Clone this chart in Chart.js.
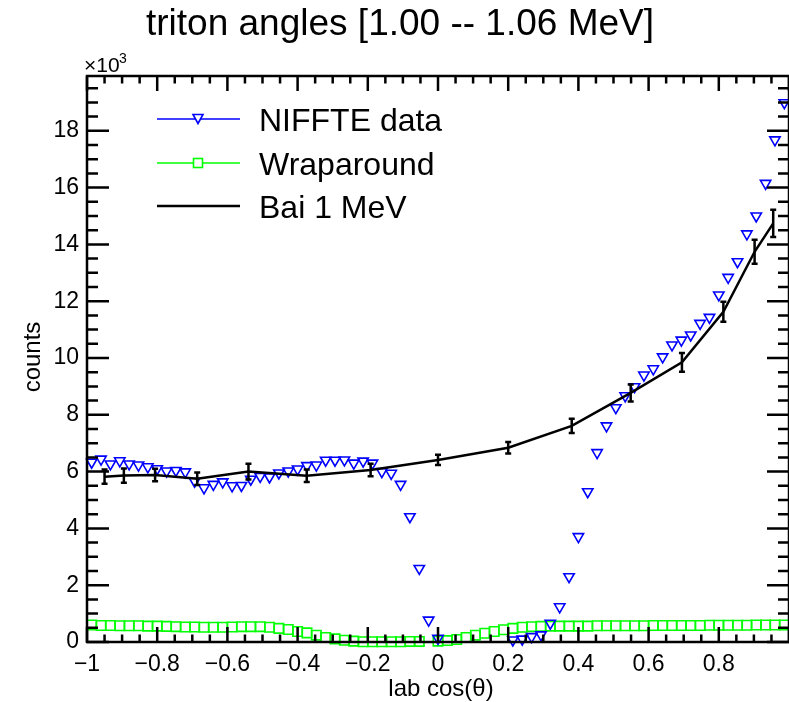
<!DOCTYPE html>
<html>
<head>
<meta charset="utf-8">
<title>triton angles</title>
<script src="https://cdn.jsdelivr.net/npm/chart.js@4.4.1/dist/chart.umd.min.js"></script>
<style>
  html, body { margin: 0; padding: 0; background: #fff; }
  #wrap { width: 789px; height: 702px; }
</style>
</head>
<body>
<div id="wrap"><canvas id="angleChart" width="789" height="702"></canvas></div>
<script>
// Histogram binning in lab cos(theta): 75 bins from -1 to 1
const nBins = 75;
const cosTheta = Array.from({ length: nBins }, (_, i) => -1 + (2 * i + 1) / nBins);

// NIFFTE counts per bin (x10^3), null = empty bin
const niffteCounts = [
  6.33, 6.44, 6.27, 6.38, 6.27, 6.23, 6.17, 6.10, 6.02, 6.04,
  5.99, 5.66, 5.43, 5.55, 5.64, 5.50, 5.51, 5.73, 5.83, 5.81,
  5.95, 6.02, 6.09, 6.21, 6.23, 6.40, 6.40, 6.41, 6.30, 6.37,
  6.30, 6.00, 5.94, 5.55, 4.41, 2.59, 0.77, 0.13, null, null,
  null, null, null, null, null, 0.07, 0.10, 0.19, 0.25, 0.66,
  1.24, 2.30, 3.71, 5.29, 6.67, 7.61, 8.25, 8.67, 8.99, 9.40,
  9.62, 10.04, 10.46, 10.63, 10.81, 11.22, 11.43, 12.22, 12.84, 13.39,
  14.37, 15.00, 16.15, 17.68, 18.99
];

// Wraparound counts per bin (x10^3)
const wrapCounts = [
  0.60, 0.58, 0.58, 0.57, 0.57, 0.57, 0.56, 0.56, 0.55, 0.54,
  0.53, 0.53, 0.52, 0.52, 0.52, 0.53, 0.54, 0.54, 0.54, 0.52,
  0.48, 0.44, 0.37, 0.32, 0.24, 0.16, 0.11, 0.06, 0.03, 0.01,
  0.01, 0.01, 0.01, 0.01, 0.02, 0.02, null, 0.03, 0.05, 0.09,
  0.16, 0.24, 0.31, 0.37, 0.43, 0.48, 0.52, 0.54, 0.55, 0.56,
  0.56, 0.56, 0.56, 0.56, 0.57, 0.57, 0.57, 0.57, 0.57, 0.57,
  0.58, 0.58, 0.58, 0.58, 0.58, 0.58, 0.59, 0.59, 0.59, 0.59,
  0.59, 0.60, 0.60, 0.60, 0.60
];

// Bai 1 MeV angular distribution with uncertainties (x10^3)
const baiCos = [-0.950, -0.895, -0.806, -0.686, -0.540, -0.374, -0.192, 0.000, 0.200, 0.381, 0.549, 0.695, 0.813, 0.902, 0.955];
const baiCounts = [5.82, 5.86, 5.88, 5.75, 6.00, 5.85, 6.06, 6.41, 6.84, 7.61, 8.77, 9.85, 11.63, 13.74, 14.74];
const baiErr = [0.25, 0.25, 0.22, 0.22, 0.28, 0.22, 0.22, 0.18, 0.20, 0.25, 0.30, 0.33, 0.35, 0.42, 0.48];

const FONT = "'Liberation Sans', Arial, Helvetica, sans-serif";
const BLUE = "#0000ff";
const GREEN = "#00ff00";

function toPoints(xs, ys) {
  return xs.map((x, i) => ({ x, y: ys[i] })).filter((p) => p.y !== null);
}

function fmtTick(v) {
  const r = Math.round(v * 100) / 100;
  if (r === 0) return "0";
  return String(r).replace("-", "\u2212");
}

// Frame with inward ticks on all four sides
const framePlugin = {
  id: "frame",
  afterDraw(chart) {
    const { ctx, chartArea: a, scales } = chart;
    const xs = scales.x, ys = scales.y;
    ctx.save();
    ctx.strokeStyle = "#000";
    ctx.lineWidth = 2.5;
    ctx.strokeRect(a.left, a.top, a.right - a.left, a.bottom - a.top);
    ctx.beginPath();
    for (let i = 0; i <= 40; i++) {
      const px = xs.getPixelForValue(-1 + i * 0.05);
      const len = i % 4 === 0 ? 15 : 7.5;
      ctx.moveTo(px, a.bottom); ctx.lineTo(px, a.bottom - len);
      ctx.moveTo(px, a.top); ctx.lineTo(px, a.top + len);
    }
    for (let i = 0; i * 0.5 <= ys.max; i++) {
      const py = ys.getPixelForValue(i * 0.5);
      const len = i % 4 === 0 ? 22 : 11;
      ctx.moveTo(a.left, py); ctx.lineTo(a.left + len, py);
      ctx.moveTo(a.right, py); ctx.lineTo(a.right - len, py);
    }
    ctx.stroke();
    ctx.restore();
  },
};

// Vertical error bars on the Bai curve
const errorBarPlugin = {
  id: "errorBars",
  afterDatasetsDraw(chart) {
    const { ctx, scales } = chart;
    ctx.save();
    ctx.strokeStyle = "#000";
    ctx.lineWidth = 2.5;
    ctx.beginPath();
    baiCos.forEach((x, i) => {
      const px = scales.x.getPixelForValue(x);
      const lo = scales.y.getPixelForValue(baiCounts[i] - baiErr[i]);
      const hi = scales.y.getPixelForValue(baiCounts[i] + baiErr[i]);
      ctx.moveTo(px, lo); ctx.lineTo(px, hi);
      ctx.moveTo(px - 3, lo); ctx.lineTo(px + 3, lo);
      ctx.moveTo(px - 3, hi); ctx.lineTo(px + 3, hi);
    });
    ctx.stroke();
    ctx.restore();
  },
};

// Title, axis titles, exponent label and legend box
const textPlugin = {
  id: "texts",
  afterDraw(chart) {
    const { ctx } = chart;
    ctx.save();
    ctx.fillStyle = "#000";

    ctx.font = `37px ${FONT}`;
    ctx.textAlign = "center";
    ctx.textBaseline = "alphabetic";
    ctx.fillText("triton angles [1.00 -- 1.06 MeV]", 400, 35);

    ctx.font = `24px ${FONT}`;
    ctx.fillText("lab cos(\u03b8)", 441, 696);

    ctx.save();
    ctx.translate(40, 357);
    ctx.rotate(-Math.PI / 2);
    ctx.fillText("counts", 0, 0);
    ctx.restore();

    ctx.textAlign = "left";
    ctx.font = `21px ${FONT}`;
    ctx.fillText("\u00d710", 84, 72);
    ctx.font = `14px ${FONT}`;
    ctx.fillText("3", 119, 63);

    // legend entries
    const entries = [
      { text: "NIFFTE data", color: BLUE, width: 1.5, marker: "triangle", y: 119 },
      { text: "Wraparound", color: GREEN, width: 1.5, marker: "square", y: 163 },
      { text: "Bai 1 MeV", color: "#000000", width: 2.5, marker: null, y: 206 },
    ];
    entries.forEach((e) => {
      ctx.strokeStyle = e.color;
      ctx.lineWidth = e.width;
      ctx.beginPath();
      ctx.moveTo(157, e.y); ctx.lineTo(240, e.y);
      ctx.stroke();
      ctx.lineWidth = 1.6;
      if (e.marker === "triangle") {
        ctx.fillStyle = "#fff";
        ctx.beginPath();
        ctx.moveTo(193, e.y - 4.5); ctx.lineTo(203, e.y - 4.5); ctx.lineTo(198, e.y + 4.5);
        ctx.closePath(); ctx.fill(); ctx.stroke();
      } else if (e.marker === "square") {
        ctx.fillStyle = "#fff";
        ctx.fillRect(193.5, e.y - 4.5, 9, 9);
        ctx.strokeRect(193.5, e.y - 4.5, 9, 9);
      }
      ctx.fillStyle = "#000";
      ctx.font = `32px ${FONT}`;
      ctx.fillText(e.text, 259, e.y + 11.5);
    });
    ctx.restore();
  },
};

new Chart(document.getElementById("angleChart"), {
  type: "scatter",
  data: {
    datasets: [
      {
        label: "Bai 1 MeV",
        data: toPoints(baiCos, baiCounts),
        showLine: true,
        borderColor: "#000",
        borderWidth: 2.5,
        pointRadius: 0,
        tension: 0,
        order: 0,
      },
      {
        label: "NIFFTE data",
        data: toPoints(cosTheta, niffteCounts),
        showLine: false,
        pointStyle: "triangle",
        rotation: 180,
        pointRadius: 6,
        borderColor: BLUE,
        backgroundColor: "rgba(255,255,255,0)",
        borderWidth: 1.6,
        clip: false,
        order: 1,
      },
      {
        label: "Wraparound",
        data: toPoints(cosTheta, wrapCounts),
        showLine: false,
        pointStyle: "rect",
        pointRadius: 6.7,
        borderColor: GREEN,
        backgroundColor: "rgba(255,255,255,0)",
        borderWidth: 1.6,
        clip: false,
        order: 2,
      },
    ],
  },
  options: {
    responsive: false,
    animation: false,
    layout: {
      autoPadding: false,
      padding: { top: 76, left: 0, right: 0, bottom: 0 },
    },
    plugins: {
      legend: { display: false },
      title: { display: false },
      tooltip: { enabled: false },
    },
    scales: {
      x: {
        type: "linear",
        min: -1,
        max: 1,
        grid: { display: false, drawTicks: false },
        border: { display: false },
        ticks: {
          stepSize: 0.2,
          padding: 9,
          color: "#000",
          maxRotation: 0,
          autoSkip: false,
          font: { family: FONT, size: 23 },
          callback: (v) => (Math.abs(v - 1) < 1e-6 ? "" : fmtTick(v)),
        },
        afterFit: (s) => {
          s.height = 60;
          s.paddingLeft = 0;
          s.paddingRight = 0;
        },
      },
      y: {
        type: "linear",
        min: 0,
        max: 19.93,
        grid: { display: false, drawTicks: false },
        border: { display: false },
        ticks: {
          stepSize: 2,
          includeBounds: false,
          padding: 8,
          color: "#000",
          font: { family: FONT, size: 23 },
          callback: (v) => String(Math.round(v)),
        },
        afterFit: (s) => {
          s.width = 87;
          s.paddingTop = 0;
          s.paddingBottom = 0;
        },
      },
    },
  },
  plugins: [framePlugin, errorBarPlugin, textPlugin],
});
</script>
</body>
</html>
